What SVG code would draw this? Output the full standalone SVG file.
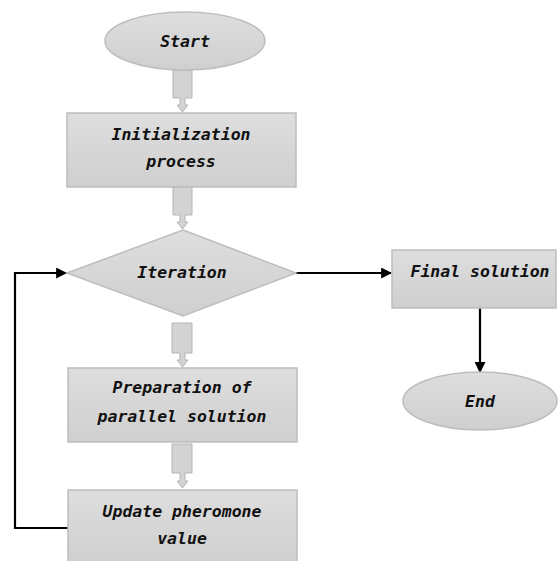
<svg xmlns="http://www.w3.org/2000/svg" width="558" height="561" viewBox="0 0 558 561">
<defs>
<linearGradient id="g" x1="0" y1="0" x2="0" y2="1">
<stop offset="0" stop-color="#dedede"/>
<stop offset="1" stop-color="#cfcfcf"/>
</linearGradient>
<marker id="ah" viewBox="0 0 10 10" refX="9" refY="5" markerWidth="5" markerHeight="5" orient="auto" markerUnits="strokeWidth">
<path d="M0,0 L10,5 L0,10 z" fill="#000"/>
</marker>
</defs>
<style>
.shape{fill:url(#g);stroke:#bdbdbd;stroke-width:1.5}
.blk{fill:#d3d3d3;stroke:#b5b5b5;stroke-width:1}
.lbl{font-family:"DejaVu Sans Mono","Liberation Mono",monospace;font-weight:bold;font-style:italic;font-size:16.5px;fill:#111;text-anchor:middle}
.con{fill:none;stroke:#000;stroke-width:2.2}
</style>
<rect width="558" height="561" fill="#fff"/>
<g id="connectors">
<path class="blk" d="M173,70 H192 V98 H185 V105 H188 L182.5,112 L177,105 H180 V98 H173 Z"/>
<path class="blk" d="M173,187 H192 V215 H185 V222 H188 L182.5,229 L177,222 H180 V215 H173 Z"/>
<path class="blk" d="M172,323 H192 V353 H185 V360 H188 L182.5,367 L177,360 H180 V353 H172 Z"/>
<path class="blk" d="M172,444 H192 V473 H185 V481 H188 L182.5,488 L177,481 H180 V473 H172 Z"/>
<path class="con" d="M296,273 H391" marker-end="url(#ah)"/>
<path class="con" d="M480,308 V372" marker-end="url(#ah)"/>
<path class="con" d="M68,528 H15 V273 H66" marker-end="url(#ah)"/>
</g>
<g id="start">
<ellipse class="shape" cx="185" cy="41" rx="80" ry="29"/>
<text class="lbl" x="185" y="47">Start</text>
</g>
<g id="init">
<rect class="shape" x="67" y="113" width="229" height="74"/>
<text class="lbl" x="181" y="140">Initialization</text>
<text class="lbl" x="181" y="167">process</text>
</g>
<g id="iteration">
<path class="shape" d="M183,230 L296,273 L183,316 L67,273 Z"/>
<text class="lbl" x="182" y="278">Iteration</text>
</g>
<g id="final">
<rect class="shape" x="392" y="250" width="164" height="58"/>
<text class="lbl" x="480" y="277">Final solution</text>
</g>
<g id="end">
<ellipse class="shape" cx="480" cy="401" rx="77" ry="29"/>
<text class="lbl" x="480" y="407">End</text>
</g>
<g id="prep">
<rect class="shape" x="68" y="368" width="229" height="74"/>
<text class="lbl" x="182" y="393">Preparation of</text>
<text class="lbl" x="182" y="422">parallel solution</text>
</g>
<g id="update">
<rect class="shape" x="68" y="490" width="229" height="74"/>
<text class="lbl" x="182" y="517">Update pheromone</text>
<text class="lbl" x="182" y="544">value</text>
</g>
</svg>
